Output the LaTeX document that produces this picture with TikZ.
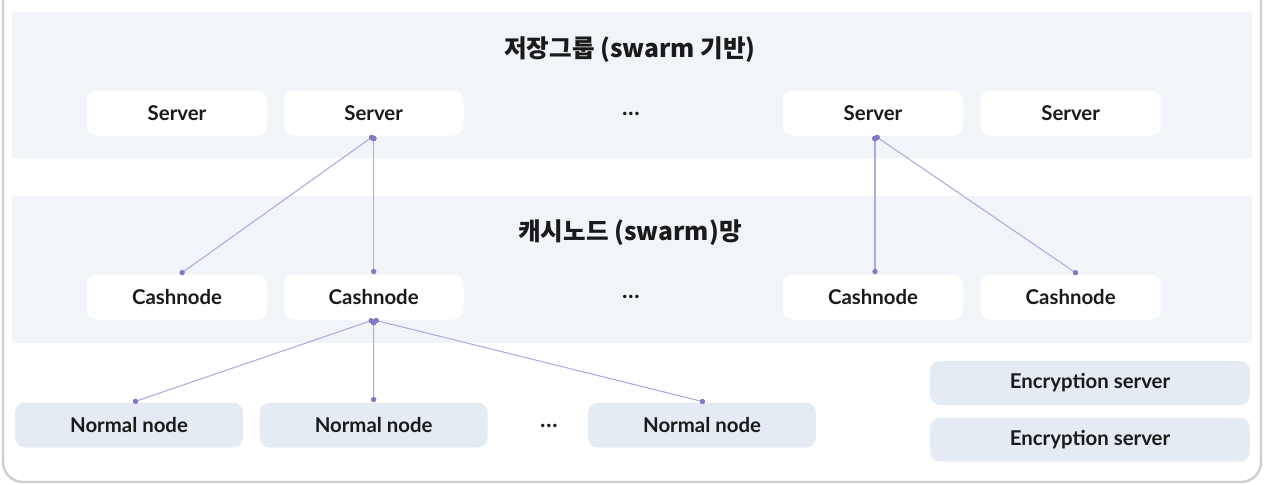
\documentclass[tikz,border=0pt]{standalone}
\usepackage{fontspec}
\setmainfont{Lato}
\newfontfamily\krfont{Noto Sans CJK KR}
\usepackage{tikz}
\usetikzlibrary{arrows.meta,positioning}

\definecolor{bandgray}{HTML}{F1F4F8}
\definecolor{nodegray}{HTML}{E5EBF2}
\definecolor{framegray}{HTML}{CFCFCF}
\definecolor{linkviolet}{HTML}{ADAADF}
\definecolor{dotviolet}{HTML}{7F7BC4}
\definecolor{inkblack}{HTML}{1A1A1A}

\tikzset{
	boxtext/.style={font=\fontsize{11.6}{13}\selectfont\bfseries, text=inkblack},
	srvbox/.style={boxtext, rectangle, rounded corners=0.2cm, fill=white, minimum width=3.6cm, minimum height=0.9cm},
	normbox/.style={boxtext, rectangle, rounded corners=0.2cm, fill=nodegray, minimum width=4.56cm, minimum height=0.9cm},
	encbox/.style={boxtext, rectangle, rounded corners=0.2cm, fill=nodegray, minimum width=6.4cm, minimum height=0.88cm},
	bandtitle/.style={font=\krfont\fontsize{14}{16}\selectfont\bfseries, text=inkblack},
	gap/.style={font=\fontsize{13}{15}\selectfont\bfseries, text=inkblack},
	link/.style={draw=linkviolet, line width=0.6pt, {Circle[length=3pt,color=dotviolet]}-{Circle[length=3pt,color=dotviolet]}},
}

\begin{document}
\begin{tikzpicture}[x=0.02cm,y=-0.02cm]
	\useasboundingbox (0,0) rectangle (1264,484);
	% frame and bands
	\draw[framegray, line width=1.4pt, rounded corners=0.4cm] (3,-20) -- (3,482) -- (1261,482) -- (1261,-20);
	\fill[bandgray] (12,12) rectangle (1252,158);
	\fill[bandgray] (12,196) rectangle (1252,343);
	
	\node[bandtitle] at (630,50) (t1) {저장그룹 (swarm 기반)};
	\node[bandtitle] at (630,233) (t2) {캐시노드 (swarm)망};
	
	% servers
	\node[srvbox] at (177,113) (s1) {Server};
	\node[srvbox,right=0.32cm of s1] (s2) {Server};
	\node[gap] at (631,114) (sdots) {…};
	\node[srvbox] at (873,113) (s3) {Server};
	\node[srvbox,right=0.34cm of s3] (s4) {Server};
	
	% cashnodes
	\node[srvbox] at (177,297) (c1) {Cashnode};
	\node[srvbox,right=0.32cm of c1] (c2) {Cashnode};
	\node[gap] at (631,297) (cdots) {…};
	\node[srvbox] at (873,297) (c3) {Cashnode};
	\node[srvbox,right=0.34cm of c3] (c4) {Cashnode};
	
	% normal nodes
	\node[normbox] at (129,425) (n1) {Normal node};
	\node[normbox,right=0.32cm of n1] (n2) {Normal node};
	\node[gap] at (549,426) (ndots) {…};
	\node[normbox] at (702,425) (n3) {Normal node};
	
	\node[encbox] at (1090,383) (e1) {Encryption server};
	\node[encbox,below=0.24cm of e1] (e2) {Encryption server};
	
	\path[link] (s2.south) edge ([xshift=0.06cm]c1.north);
	\path[link] (s2.south) edge (c2.north);
	\path[link] ([xshift=0.04cm]s3.south) edge ([xshift=0.04cm]c3.north);
	\path[link] ([xshift=0.04cm]s3.south) edge ([xshift=0.14cm]c4.north);
	
	\path[link] (c2.south) edge ([xshift=0.08cm]n1.north);
	\path[link] (c2.south) edge (n2.north);
	\path[link] (c2.south) edge ([xshift=0.06cm]n3.north);
\end{tikzpicture}
\end{document}
